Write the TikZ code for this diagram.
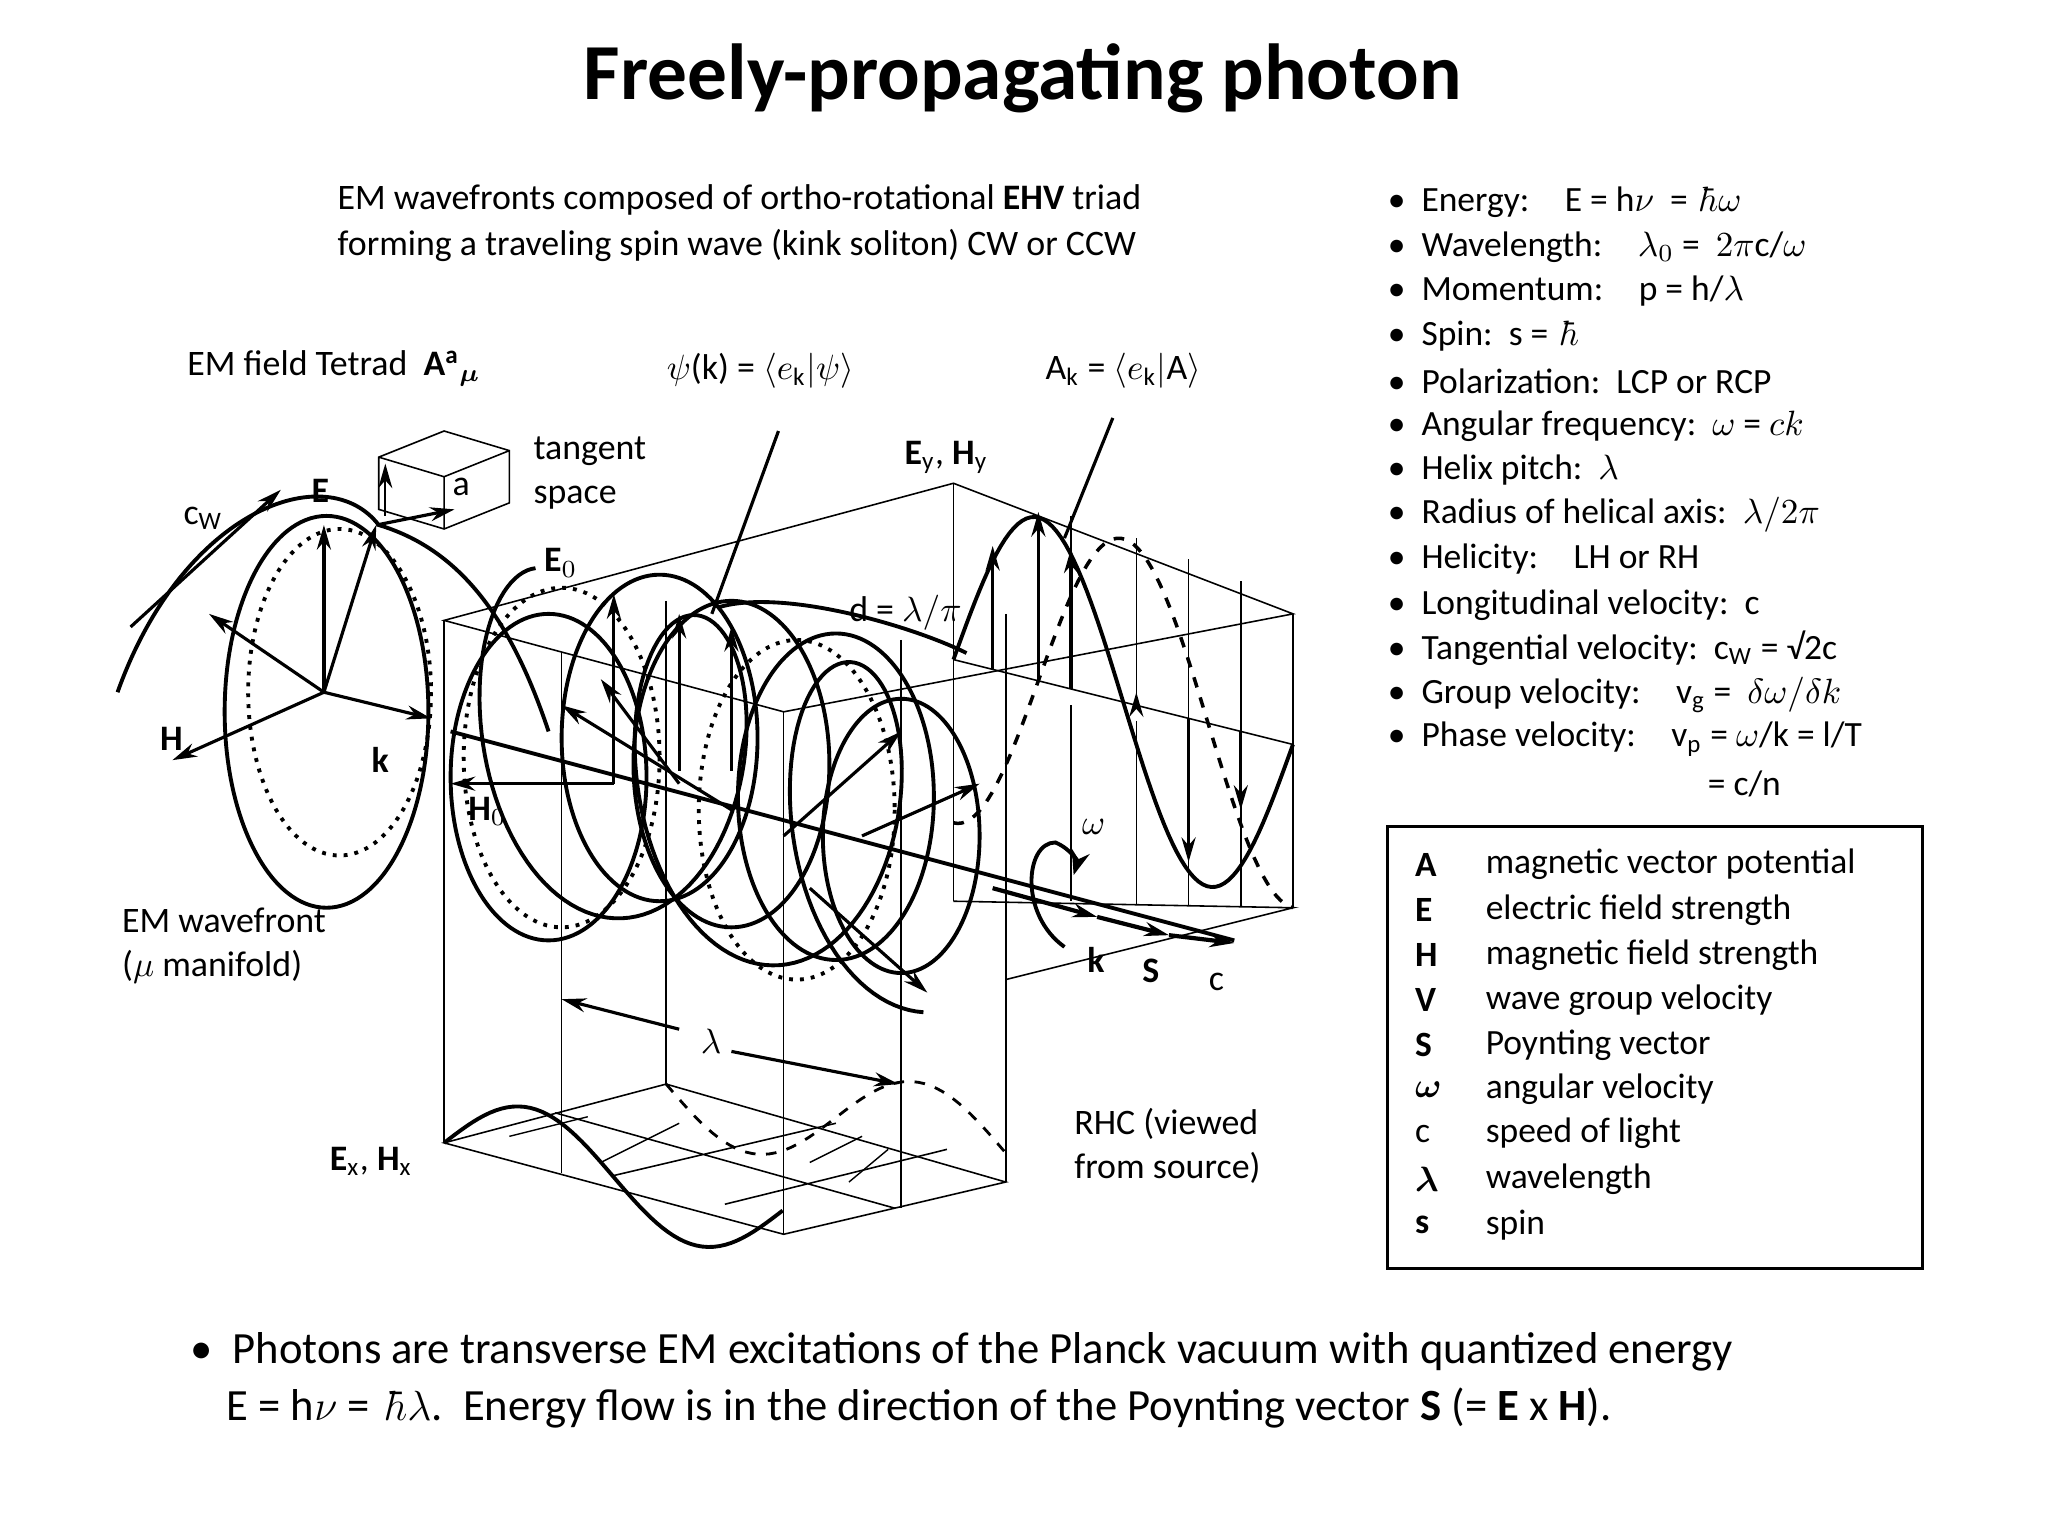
\documentclass[tikz,border=0pt]{standalone}
\usepackage{amsmath}
\usepackage{fontspec}
\setmainfont{Carlito}
\usetikzlibrary{arrows.meta}
\begin{document}
\begin{tikzpicture}[x=0.013061cm,y=-0.013061cm,
  txt/.style={inner sep=0pt,anchor=west,font=\fontsize{10.2pt}{12.5pt}\selectfont},
  lst/.style={inner sep=0pt,anchor=west,font=\fontsize{10.1pt}{12pt}\selectfont},
  thk/.style={line width=1.1pt},
  thn/.style={line width=0.45pt},
  dot/.style={line width=1.1pt,dotted},
  arr/.style={-{Stealth[length=7pt,width=4pt]},line width=0.9pt}]
\useasboundingbox (0,0) rectangle (1568,1176);
\fill[white] (0,0) rectangle (1568,1176);
% title
\node[inner sep=0pt,font=\fontsize{22.6pt}{26pt}\selectfont\bfseries] (title) at (783,60) {Freely-propagating photon};
\node[txt] (d1) at (258,153) {EM wavefronts composed of ortho-rotational \textbf{EHV} triad};
\node[txt] (d2) at (258,188) {forming a traveling spin wave (kink soliton) CW or CCW};
% right list
\foreach \yy/\tt in {155/{Energy:\quad E = h$\nu$ \ = \,$\hbar\omega$},
 189/{Wavelength:\quad $\lambda_0$ = \ $2\pi$c/$\omega$},
 223/{Momentum:\quad p = h/$\lambda$},
 257/{Spin:\ \ s = \,$\hbar$},
 292/{Polarization:\ \ LCP or RCP},
 326/{Angular frequency:\ \ $\omega$ = $ck$},
 360/{Helix pitch:\ \ $\lambda$},
 394/{Radius of helical axis:\ \ $\lambda/2\pi$},
 428/{Helicity:\quad LH or RH},
 463/{Longitudinal velocity:\ \ c},
 496/{Tangential velocity:\ \ c$_\mathrm{W}$ = √2c},
 532/{Group velocity:\quad v$_\mathrm{g}$ = \ $\delta\omega/\delta k$},
 566/{Phase velocity:\quad v$_\mathrm{p}$ = $\omega$/k = l/T}}
 {\node[lst] at (1062,\yy) {•\ \ \tt};}
\node[lst] (pv2) at (1307,600) {= c/n};
% legend
\draw[line width=0.9pt] (1062,633) rectangle (1472,971);
\foreach \yy/\aa/\bb in {662/{\textbf{A}}/{magnetic vector potential},697/{\textbf{E}}/{electric field strength},731/{\textbf{H}}/{magnetic field strength},766/{\textbf{V}}/{wave group velocity},800/{\textbf{S}}/{Poynting vector},834/{$\boldsymbol{\omega}$}/{angular velocity},868/{c}/{speed of light},903/{$\boldsymbol{\lambda}$}/{wavelength},938/{\textbf{s}}/{spin}}
 {\node[lst] at (1083,\yy) {\aa}; \node[lst] at (1137,\yy) {\bb};}
% bottom text
\node[inner sep=0pt,anchor=west,font=\fontsize{12.7pt}{15pt}\selectfont] (b1) at (145,1035) {•\ \ Photons are transverse EM excitations of the Planck vacuum with quantized energy};
\node[inner sep=0pt,anchor=west,font=\fontsize{12.7pt}{15pt}\selectfont] (b2) at (173,1078) {E = h$\nu$ = \,$\hbar\lambda$.\ \ Energy flow is in the direction of the Poynting vector \textbf{S} (= \textbf{E} x \textbf{H}).};
% labels
\node[txt] (tet) at (143,282) {EM field Tetrad\ \ $\mathbf{A^a}_{\boldsymbol\mu}$};
\node[txt] (psi) at (510,284) {$\psi$(k) = $\langle e_\mathrm{k}|\psi\rangle$};
\node[txt] (ak) at (800,284) {A$_\mathrm{k}$ = $\langle e_\mathrm{k}|$A$\rangle$};
\node[txt,align=left] (tan) at (408,362) {tangent\\space};
\node[txt] (ey) at (692,350) {\textbf{E}$_\mathrm{y}$, \textbf{H}$_\mathrm{y}$};
\node[txt] (cw) at (140,397) {c$_\mathrm{W}$};
\node[txt] (E) at (238,376) {\textbf{E}};
\node[txt] (a) at (346,373) {a};
\node[txt] (E0) at (416,431) {\textbf{E}$_0$};
\node[txt,fill=white,inner sep=1pt] (dl) at (647,469) {d = $\lambda/\pi$};
\node[txt] (H) at (122,566) {\textbf{H}};
\node[txt] (k1) at (284,582) {\textbf{k}};
\node[txt] (H0) at (358,621) {\textbf{H}$_0$};
\node[txt] (om) at (828,633) {$\omega$};
\node[txt,align=left] (emw) at (93,724) {EM wavefront\\ ($\mu$ manifold)};
\node[txt] (k2) at (832,735) {\textbf{k}};
\node[txt] (S) at (874,743) {\textbf{S}};
\node[txt] (c) at (925,752) {c};
\node[txt] (lam) at (536,797) {$\lambda$};
\node[txt,align=left] (rhc) at (822,877) {RHC (viewed\\from source)};
\node[txt] (ex) at (252,889) {\textbf{E}$_\mathrm{x}$, \textbf{H}$_\mathrm{x}$};
% box
\draw[thn] (340,475) -- (730,370) -- (990,470) -- (600,545) -- cycle;
\draw[thn] (340,475) -- (340,875) (600,545) -- (600,945) (730,370) -- (730,690) (990,470) -- (990,695);
\draw[thn] (730,690) -- (990,695) -- (770,750);
\draw[thn] (730,505) -- (990,570);
\foreach \xx/\ya/\yb in {820/395/520,870/412/540,910/428/550,950/445/560} {\draw[thn] (\xx,\ya) -- (\xx,\yb);}
\foreach \xx/\ya/\yb in {820/540/690,870/552/692,910/563/693,950/570/694} {\draw[thn] (\xx,\ya) -- (\xx,\yb);}
\foreach \xx/\ya/\yb in {430/500/898,510/460/830,690/490/925,770/470/905} {\draw[thn] (\xx,\ya) -- (\xx,\yb);}
\draw[thn] (340,875) -- (510,830) -- (770,905) -- (600,945) -- cycle;
\draw[thn] (425,852) -- (685,925) (470,900) -- (640,860) (555,922) -- (725,880);
% bottom plane curves
\draw[thk] plot[domain=0:360,samples=60] ({340+\x*0.72},{875+0.2*\x*0.72-40*sin(\x)});
\draw[thin] (390,870) -- (450,855) (460,890) -- (520,860) (620,890) -- (660,870) (650,905) -- (680,880);
\draw[thn,dashed,line width=0.8pt] plot[domain=0:360,samples=60] ({510+\x*0.72},{830+0.2*\x*0.72+40*sin(\x)});
% lambda dimension
\draw[arr] (520,788) -- (430,765);
\draw[arr] (560,805) -- (688,830);
% wavefront
\draw[thk] (250,545) ellipse [x radius=78,y radius=150];
\draw[dot] (260,530) ellipse [x radius=70,y radius=125];
\draw[thk] (90,530) .. controls (140,390) and (250,350) .. (290,402) .. controls (350,420) and (390,470) .. (420,560);
\draw[arr] (100,480) -- (215,375);
\draw[arr] (248,530) -- (248,402);
\draw[arr] (248,530) -- (288,402);
\draw[arr] (248,530) -- (330,550);
\draw[arr] (248,530) -- (132,582);
\draw[arr] (248,530) -- (160,470);
\draw[arr] (288,402) -- (348,390);
% cube
\draw[thn] (290,350) -- (340,330) -- (390,345) -- (390,385) -- (340,405) -- (290,390) -- cycle (290,350) -- (340,365) -- (390,345) (340,365) -- (340,405);
\draw[arr,line width=0.6pt] (295,395) -- (295,355);
% helix and circles
\draw[thk] plot[domain=0:900,samples=250] ({410+0.33*\x-70*sin(\x)},{560+0.1*\x-125*cos(\x)});
\foreach \cx/\cy in {420/595,505/565,560/585,640/610} {\draw[thk] (\cx,\cy) ellipse [x radius=75,y radius=125];}
\draw[thk] (690,640) ellipse [x radius=60,y radius=105];
\draw[dot] (610,620) ellipse [x radius=75,y radius=130];
\draw[dot] (430,580) ellipse [x radius=75,y radius=130];
\draw[thk] (550,465) .. controls (600,450) and (700,480) .. (740,500);
% arrows in helix
\draw[arr] (470,600) -- (345,600);
\draw[arr] (520,600) -- (460,520);
\draw[arr] (600,640) -- (690,560);
\draw[arr] (560,620) -- (430,540);
\draw[arr] (620,680) -- (710,760);
\draw[arr] (660,640) -- (750,600);
\foreach \xx/\ya/\yb in {470/600/455,520/590/470,560/590/480} {\draw[arr] (\xx,\ya) -- (\xx,\yb);}
% propagation axis
\draw[thk] (345,560) -- (945,720);
\draw[arr,line width=1.2pt] (760,680) -- (840,702);
\draw[arr,line width=1.2pt] (840,702) -- (895,716);
\draw[arr,line width=1.2pt] (895,716) -- (945,722);
% omega curl
\draw[thk,-{Stealth[length=7pt]}] (815,725) .. controls (780,700) and (785,645) .. (808,645) .. controls (820,650) and (825,660) .. (822,670);
% Ey sine waves
\draw[thk] plot[domain=0:360,samples=80] ({730+\x*0.722},{505+0.25*\x*0.722-125*sin(\x)});
\draw[line width=1pt,dashed] plot[domain=0:360,samples=80] ({730+\x*0.722},{505+0.25*\x*0.722+125*sin(\x+90)});
\foreach \xx/\yb in {760/418,795/392,820/420,870/530,910/660,950/620} {\draw[arr] (\xx,{505+0.25*(\xx-730)}) -- (\xx,\yb);}
% pointer lines
\draw[line width=0.9pt] (596,330) -- (545,470);
\draw[line width=0.9pt] (852,320) -- (815,412);
\end{tikzpicture}
\end{document}
